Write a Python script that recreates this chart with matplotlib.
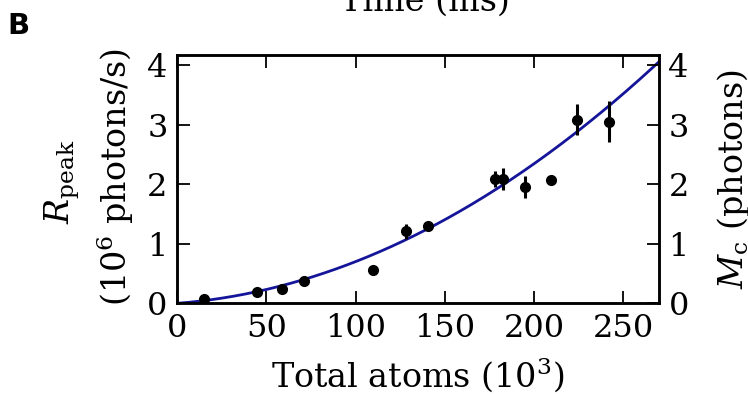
import matplotlib
matplotlib.use("Agg")
import matplotlib.pyplot as plt
import numpy as np

plt.rcParams['font.family'] = 'DejaVu Serif'
plt.rcParams['mathtext.fontset'] = 'dejavuserif'

# Data (total atoms in 10^3, R_peak in 10^6 photons/s)
atoms = [15.0, 44.9, 58.8, 71.2, 109.6, 128.1, 140.4, 178.1, 182.8, 194.8, 209.8, 224.0, 242.4]
rpeak = [0.07, 0.19, 0.235, 0.375, 0.56, 1.21, 1.29, 2.09, 2.09, 1.955, 2.065, 3.08, 3.05]
rerr = [0.02, 0.02, 0.02, 0.02, 0.03, 0.13, 0.03, 0.14, 0.18, 0.19, 0.03, 0.26, 0.34]

# Fit curve coefficients: R = a*N^2 + b*N
fit_a = 4.71e-5
fit_b = 0.00229

xticks = [0, 50, 100, 150, 200, 250]
yticks = [0, 1, 2, 3, 4]

fig = plt.figure(figsize=(7.48, 3.94), dpi=100)
ax = fig.add_axes([0.237, 0.2302, 0.6436, 0.6302])

xf = np.linspace(0, 270, 300)
ax.plot(xf, fit_a * xf**2 + fit_b * xf, color='#15159a', lw=2.0, zorder=2)
ax.errorbar(atoms, rpeak, yerr=rerr, fmt='o', color='black', ms=7,
            elinewidth=2.2, capsize=0, zorder=3)

ax.set_xlim(0, 270)
ax.set_ylim(0, 4.17)
ax.set_xticks(xticks)
ax.set_yticks(yticks)
ax.tick_params(direction='in', length=9, width=1.3, labelsize=23, pad=7,
               top=True, right=False)
for s in ax.spines.values():
    s.set_linewidth(1.8)

ax2 = ax.twinx()
ax2.set_ylim(0, 4.17)
ax2.set_yticks(yticks)
ax2.tick_params(direction='in', length=9, width=1.3, labelsize=23, pad=7)
for s in ax2.spines.values():
    s.set_linewidth(1.8)
ax2.set_ylabel(r'$M_{\rm c}$ (photons)', fontsize=24, labelpad=19)

ax.set_xlabel(r'Total atoms ($10^3$)', fontsize=24, labelpad=8)

fig.text(0.083, 0.54, r'$R_{\rm peak}$', rotation=90, fontsize=24,
         ha='center', va='center')
fig.text(0.154, 0.55, r'($10^6$ photons/s)', rotation=90, fontsize=24,
         ha='center', va='center')

fig.text(0.568, 0.972, 'Time (ms)', fontsize=24, ha='center', va='baseline')
fig.text(0.010, 0.935, 'B', fontsize=21, fontweight='bold',
         family='DejaVu Sans', ha='left', va='center')

fig.savefig('out.png', dpi=100)
